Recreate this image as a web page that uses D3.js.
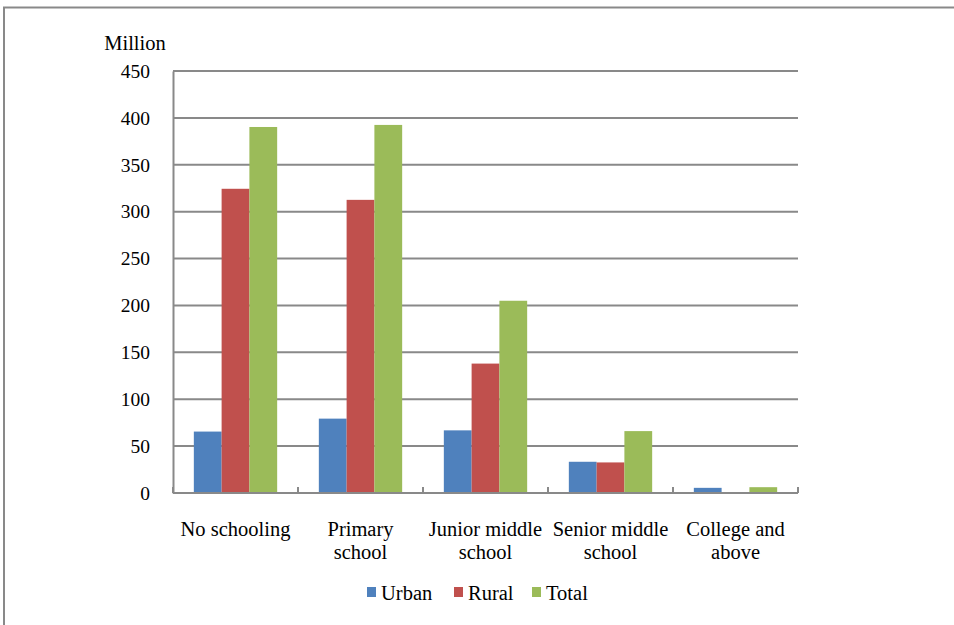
<!DOCTYPE html>
<html>
<head>
<meta charset="utf-8">
<script src="https://d3js.org/d3.v7.min.js"></script>
<style>
  body { margin: 0; background: #fff; }
  svg text { font-family: "Liberation Serif", "Times New Roman", serif !important; fill: #000; }
</style>
</head>
<body>
<div id="chart"></div>
<script>
// categories and series, millions of people
var categories = [["No schooling"], ["Primary", "school"], ["Junior middle", "school"], ["Senior middle", "school"], ["College and", "above"]];
var seriesNames = ["Urban", "Rural", "Total"];
var urban = [65.5, 79.3, 66.8, 33.3, 5.5];
var rural = [324.4, 312.6, 138, 32.6, 0.7];
var total = [390.3, 392.5, 205, 66, 6.2];
var yTicks = [0, 50, 100, 150, 200, 250, 300, 350, 400, 450];
var colors = ["#4F81BD", "#C0504D", "#9BBB59"];

var width = 954, height = 625;
var margin = {top: 71, right: 156, bottom: 132, left: 173},
    w = width - margin.left - margin.right,
    h = height - margin.top - margin.bottom;

var svg = d3.select("#chart")
  .append("svg")
    .attr("width", width)
    .attr("height", height);

// outer frame of the chart area
svg.append("path")
  .attr("d", "M4,625 V7.5 H954")
  .attr("fill", "none")
  .attr("stroke", "#898989")
  .attr("stroke-width", 2);

var g = svg.append("g")
  .attr("transform", "translate(" + margin.left + "," + margin.top + ")");

var keys = categories.map(function(c) { return c.join(" "); });
var data = keys.map(function(k, i) {
  return {key: k, values: [urban[i], rural[i], total[i]]};
});

var x = d3.scaleBand()
  .domain(keys)
  .range([0, w])
  .paddingInner(1/3)
  .paddingOuter(1/6);

var x1 = d3.scaleBand()
  .domain(seriesNames)
  .range([0, x.bandwidth()]);

var y = d3.scaleLinear()
  .domain([0, 450])
  .range([h, 0]);

// gridlines
g.selectAll(".grid")
  .data(yTicks.slice(1))
  .enter()
  .append("line")
    .attr("x1", 0)
    .attr("x2", w)
    .attr("y1", function(d) { return y(d); })
    .attr("y2", function(d) { return y(d); })
    .attr("stroke", "#898989")
    .attr("stroke-width", 2);

// bars
var groups = g.selectAll(".grp")
  .data(data)
  .enter()
  .append("g")
    .attr("transform", function(d) { return "translate(" + x(d.key) + ",0)"; });

groups.selectAll("rect")
  .data(function(d) { return d.values.map(function(v, j) { return {name: seriesNames[j], value: v, j: j}; }); })
  .enter()
  .append("rect")
    .attr("x", function(d) { return x1(d.name); })
    .attr("y", function(d) { return y(d.value); })
    .attr("width", x1.bandwidth())
    .attr("height", function(d) { return h - y(d.value); })
    .attr("fill", function(d) { return colors[d.j]; });

// y axis
var yAxis = g.append("g")
  .call(d3.axisLeft(y).tickValues(yTicks).tickSize(0).tickPadding(23));
yAxis.attr("font-family", null);
yAxis.select(".domain").attr("stroke", "#898989").attr("stroke-width", 2);
yAxis.selectAll("text").style("font-size", "19.5px");

// x axis, ticks point up between groups
var xAxis = g.append("g")
  .attr("transform", "translate(0," + h + ")");
xAxis.append("line")
  .attr("x1", 0).attr("x2", w)
  .attr("stroke", "#898989").attr("stroke-width", 2);
var bounds = d3.range(categories.length + 1).map(function(i) { return i * x.step(); });
xAxis.selectAll(".tk")
  .data(bounds)
  .enter()
  .append("line")
    .attr("x1", function(d) { return d; })
    .attr("x2", function(d) { return d; })
    .attr("y1", 0)
    .attr("y2", -6)
    .attr("stroke", "#898989")
    .attr("stroke-width", 2);

var labels = xAxis.selectAll(".lbl")
  .data(categories)
  .enter()
  .append("text")
    .attr("text-anchor", "middle")
    .attr("transform", function(d, i) { return "translate(" + (x(keys[i]) + x.bandwidth() / 2) + ",0)"; })
    .style("font-size", "20.5px");
labels.selectAll("tspan")
  .data(function(d) { return d; })
  .enter()
  .append("tspan")
    .attr("x", 0)
    .attr("y", function(d, i) { return 43 + i * 23; })
    .text(function(d) { return d; });

// unit label
g.append("text")
  .attr("x", -38)
  .attr("y", -21)
  .attr("text-anchor", "middle")
  .style("font-size", "20.5px")
  .text("Million");

// legend
var legendX = [367, 454, 532];
var legend = svg.selectAll(".leg")
  .data(seriesNames)
  .enter()
  .append("g")
    .attr("transform", function(d, i) { return "translate(" + legendX[i] + ",593)"; });
legend.append("rect")
  .attr("x", 0).attr("y", -6)
  .attr("width", 9).attr("height", 10)
  .attr("fill", function(d, i) { return colors[i]; });
legend.append("text")
  .attr("x", 14)
  .attr("y", 6.5)
  .style("font-size", "20.5px")
  .text(function(d) { return d; });
</script>
</body>
</html>
